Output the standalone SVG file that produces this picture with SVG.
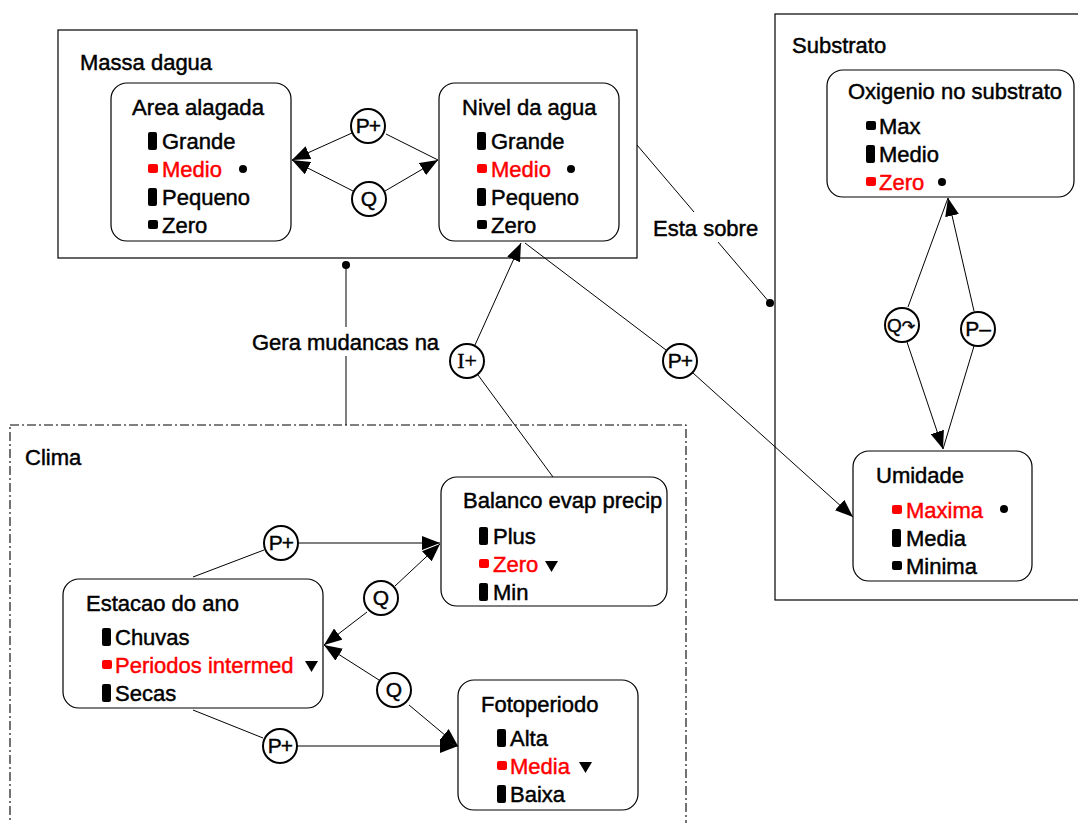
<svg xmlns="http://www.w3.org/2000/svg" width="1078" height="823" viewBox="0 0 1078 823">
<defs>
<style>
text{font-family:"Liberation Sans",Arial,Helvetica,sans-serif;font-size:22px;fill:#000;stroke:#000;stroke-width:0.45}
text.red{fill:#ff0000;stroke:#ff0000}
.box{fill:#fff;stroke:#000;stroke-width:1.2}
.cont{fill:none;stroke:#000;stroke-width:1.2}
.dash{fill:none;stroke:#000;stroke-width:1.1;stroke-dasharray:9 3 2 3}
.ln{fill:none;stroke:#000;stroke-width:1}
.rel{fill:#fff;stroke:#000;stroke-width:2}
text.rl{font-size:21px;text-anchor:middle;stroke-width:0.4}
.b{fill:#000}
.r{fill:#ff0000}
</style>
<marker id="arr" viewBox="0 0 18 14" refX="18" refY="7" markerWidth="18" markerHeight="14" markerUnits="userSpaceOnUse" orient="auto-start-reverse">
<path d="M0,0 L18,7 L0,14 z" fill="#000"/>
</marker>
</defs>
<rect width="1078" height="823" fill="#fff"/>

<g id="massa-dagua">
<rect class="cont" x="58" y="30" width="579" height="228"/>
<text x="80" y="70">Massa dagua</text>
</g>
<g id="substrato">
<rect class="cont" x="775" y="14" width="320" height="586"/>
<text x="792" y="53">Substrato</text>
</g>
<g id="clima">
<rect class="dash" x="10" y="425" width="676" height="420"/>
<text x="25" y="465">Clima</text>
</g>

<g id="connectors">
<line class="ln" x1="352" y1="133" x2="292" y2="160" marker-end="url(#arr)"/>
<line class="ln" x1="386" y1="134" x2="438" y2="160"/>
<line class="ln" x1="292" y1="160" x2="353" y2="191" marker-start="url(#arr)"/>
<line class="ln" x1="385" y1="191" x2="438" y2="160" marker-end="url(#arr)"/>
<line class="ln" x1="346" y1="265" x2="346" y2="327"/>
<line class="ln" x1="346" y1="356" x2="346" y2="425"/>
<circle cx="346" cy="265" r="4" fill="#000"/>
<text x="252" y="350">Gera mudancas na</text>
<line class="ln" x1="475" y1="345" x2="521" y2="243" marker-end="url(#arr)"/>
<line class="ln" x1="478" y1="375" x2="553" y2="477"/>
<line class="ln" x1="637" y1="145" x2="694" y2="212"/>
<line class="ln" x1="718" y1="242" x2="770" y2="303"/>
<circle cx="770" cy="303" r="4" fill="#000"/>
<text x="653" y="236">Esta sobre</text>
<line class="ln" x1="525" y1="243" x2="666" y2="350"/>
<line class="ln" x1="693" y1="373" x2="853" y2="517" marker-end="url(#arr)"/>
<line class="ln" x1="908" y1="307" x2="948" y2="198"/>
<line class="ln" x1="974" y1="311" x2="948" y2="198" marker-end="url(#arr)"/>
<line class="ln" x1="907" y1="342" x2="943" y2="449" marker-end="url(#arr)"/>
<line class="ln" x1="974" y1="346" x2="943" y2="449"/>
<line class="ln" x1="193" y1="577" x2="264" y2="550"/>
<line class="ln" x1="298" y1="543" x2="440" y2="543" marker-end="url(#arr)"/>
<line class="ln" x1="395" y1="586" x2="440" y2="544" marker-end="url(#arr)"/>
<line class="ln" x1="324" y1="645" x2="367" y2="612" marker-start="url(#arr)"/>
<line class="ln" x1="324" y1="645" x2="379" y2="680" marker-start="url(#arr)"/>
<line class="ln" x1="409" y1="705" x2="458" y2="746" marker-end="url(#arr)"/>
<line class="ln" x1="193" y1="710" x2="263" y2="738"/>
<line class="ln" x1="297" y1="746" x2="458" y2="746" marker-end="url(#arr)"/>

<g id="rel-p1"><circle class="rel" cx="368" cy="126" r="17"/><text class="rl" x="368" y="133" letter-spacing="-1">P+</text></g>
<g id="rel-q1"><circle class="rel" cx="369" cy="199" r="17"/><text class="rl" x="369" y="206">Q</text></g>
<g id="rel-i"><circle class="rel" cx="467" cy="361" r="17"/><text class="rl" x="467" y="368" style="font-family:'Liberation Serif',serif;font-size:22px">I+</text></g>
<g id="rel-p2"><circle class="rel" cx="680" cy="361" r="17"/><text class="rl" x="680" y="368" letter-spacing="-1">P+</text></g>
<g id="rel-qo"><circle class="rel" cx="902" cy="325" r="17"/><text class="rl" x="901" y="332" style="font-size:19px">Q<tspan style="font-family:'DejaVu Sans',sans-serif;font-size:16px">↷</tspan></text></g>
<g id="rel-pm"><circle class="rel" cx="978" cy="329" r="17"/><text class="rl" x="978" y="336">P–</text></g>
<g id="rel-p3"><circle class="rel" cx="281" cy="543" r="17"/><text class="rl" x="281" y="550" letter-spacing="-1">P+</text></g>
<g id="rel-q2"><circle class="rel" cx="381" cy="598" r="17"/><text class="rl" x="381" y="605">Q</text></g>
<g id="rel-q3"><circle class="rel" cx="394" cy="690" r="17"/><text class="rl" x="394" y="697">Q</text></g>
<g id="rel-p4"><circle class="rel" cx="280" cy="746" r="17"/><text class="rl" x="280" y="753" letter-spacing="-1">P+</text></g>
</g>

<g id="area-alagada">
<rect class="box" x="111" y="83" width="180" height="158" rx="16"/>
<text x="132" y="115" textLength="132" lengthAdjust="spacingAndGlyphs">Area alagada</text>
<rect class="b" x="148" y="132" width="9" height="18" rx="2"/><text x="162" y="149">Grande</text>
<rect class="r" x="148" y="164" width="10" height="9" rx="2"/><text class="red" x="162" y="177">Medio</text><circle cx="243" cy="169" r="4"/>
<rect class="b" x="148" y="188" width="9" height="18" rx="2"/><text x="162" y="205">Pequeno</text>
<rect class="b" x="148" y="220" width="10" height="9" rx="2"/><text x="162" y="233">Zero</text>
</g>

<g id="nivel-da-agua">
<rect class="box" x="439" y="83" width="180" height="158" rx="16"/>
<text x="462" y="115">Nivel da agua</text>
<rect class="b" x="477" y="132" width="9" height="18" rx="2"/><text x="491" y="149">Grande</text>
<rect class="r" x="477" y="164" width="10" height="9" rx="2"/><text class="red" x="491" y="177">Medio</text><circle cx="571" cy="169" r="4"/>
<rect class="b" x="477" y="188" width="9" height="18" rx="2"/><text x="491" y="205">Pequeno</text>
<rect class="b" x="477" y="220" width="10" height="9" rx="2"/><text x="491" y="233">Zero</text>
</g>

<g id="oxigenio-no-substrato">
<rect class="box" x="827" y="70" width="247" height="127" rx="16"/>
<text x="848" y="99">Oxigenio no substrato</text>
<rect class="b" x="866" y="121" width="10" height="9" rx="2"/><text x="879" y="134">Max</text>
<rect class="b" x="866" y="145" width="9" height="18" rx="2"/><text x="879" y="162">Medio</text>
<rect class="r" x="866" y="177" width="10" height="9" rx="2"/><text class="red" x="879" y="190">Zero</text><circle cx="942" cy="182" r="4"/>
</g>

<g id="umidade">
<rect class="box" x="853" y="451" width="179" height="130" rx="16"/>
<text x="876" y="483">Umidade</text>
<rect class="r" x="892" y="505" width="10" height="9" rx="2"/><text class="red" x="906" y="518">Maxima</text><circle cx="1004" cy="509" r="4"/>
<rect class="b" x="892" y="529" width="9" height="18" rx="2"/><text x="906" y="546">Media</text>
<rect class="b" x="892" y="561" width="10" height="9" rx="2"/><text x="906" y="574">Minima</text>
</g>

<g id="balanco-evap-precip">
<rect class="box" x="441" y="477" width="226" height="129" rx="16"/>
<text x="463" y="508">Balanco evap precip</text>
<rect class="b" x="479" y="527" width="9" height="18" rx="2"/><text x="493" y="544">Plus</text>
<rect class="r" x="479" y="559" width="10" height="9" rx="2"/><text class="red" x="493" y="572">Zero</text><path d="M545,561 L558,561 L551.5,572 z"/>
<rect class="b" x="479" y="583" width="9" height="18" rx="2"/><text x="493" y="600">Min</text>
</g>

<g id="estacao-do-ano">
<rect class="box" x="63" y="579" width="260" height="129" rx="16"/>
<text x="86" y="611">Estacao do ano</text>
<rect class="b" x="102" y="628" width="9" height="18" rx="2"/><text x="115" y="645">Chuvas</text>
<rect class="r" x="102" y="660" width="10" height="9" rx="2"/><text class="red" x="115" y="673">Periodos intermed</text><path d="M305,661 L318,661 L311.5,672 z"/>
<rect class="b" x="102" y="684" width="9" height="18" rx="2"/><text x="115" y="701">Secas</text>
</g>

<g id="fotoperiodo">
<rect class="box" x="458" y="680" width="180" height="130" rx="16"/>
<text x="481" y="712">Fotoperiodo</text>
<rect class="b" x="497" y="729" width="9" height="18" rx="2"/><text x="510" y="746">Alta</text>
<rect class="r" x="497" y="761" width="10" height="9" rx="2"/><text class="red" x="510" y="774">Media</text><path d="M579,762 L592,762 L585.5,773 z"/>
<rect class="b" x="497" y="785" width="9" height="18" rx="2"/><text x="510" y="802">Baixa</text>
</g>
</svg>
